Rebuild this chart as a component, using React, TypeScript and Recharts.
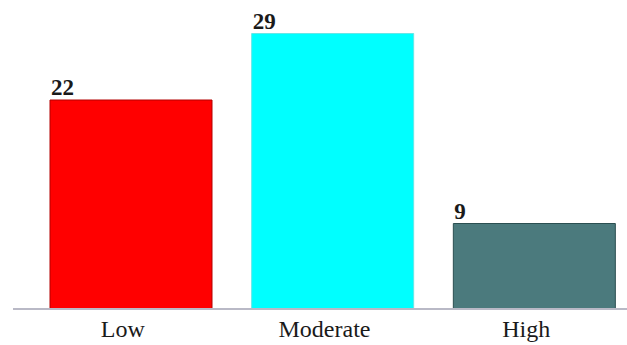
import React from 'react';
import { BarChart, Bar, XAxis, YAxis, Cell, LabelList } from 'recharts';

const levels = ['Low', 'Moderate', 'High'];
const counts = [22, 29, 9];
const fills = ['#ff0000', '#00ffff', '#4b7a7d'];
const strokes = ['#b30000', '#66e6e6', '#2b4f51'];

const data = levels.map((name, i) => ({ name, value: counts[i] }));

const serif = '"Liberation Serif", "DejaVu Serif", serif';

// value sits above the left edge of the bar, not centred
const ValueLabel = (props: any) => {
  const { x, y, value } = props;
  return (
    <text x={x + 1} y={y - 5} textAnchor="start" fontFamily={serif} fontWeight="bold" fontSize={23} fill="#1a1a1a">
      {value}
    </text>
  );
};

const CategoryTick = (props: any) => {
  const { x, y, payload } = props;
  return (
    <text x={x - 8} y={y} dy={20} textAnchor="middle" fontFamily={serif} fontSize={24} fill="#1a1a1a">
      {payload.value}
    </text>
  );
};

export default function App() {
  return (
    <div style={{ position: 'absolute', left: 0, top: 0, width: 627, height: 345, overflow: 'hidden', background: '#fff' }}>
      <BarChart
        width={635}
        height={345}
        data={data}
        margin={{ top: 24, right: 0, bottom: 0, left: 13 }}
        barCategoryGap={20}
      >
        <XAxis
          dataKey="name"
          tickLine={false}
          axisLine={{ stroke: '#b9b9c6', strokeWidth: 2 }}
          tick={<CategoryTick />}
          height={36}
          padding={{ left: 17, right: 0 }}
        />
        <YAxis hide domain={[0, 30]} />
        <Bar dataKey="value" isAnimationActive={false}>
          {data.map((d, i) => (
            <Cell key={d.name} fill={fills[i]} stroke={strokes[i]} strokeWidth={1} />
          ))}
          <LabelList dataKey="value" content={<ValueLabel />} />
        </Bar>
      </BarChart>
    </div>
  );
}
